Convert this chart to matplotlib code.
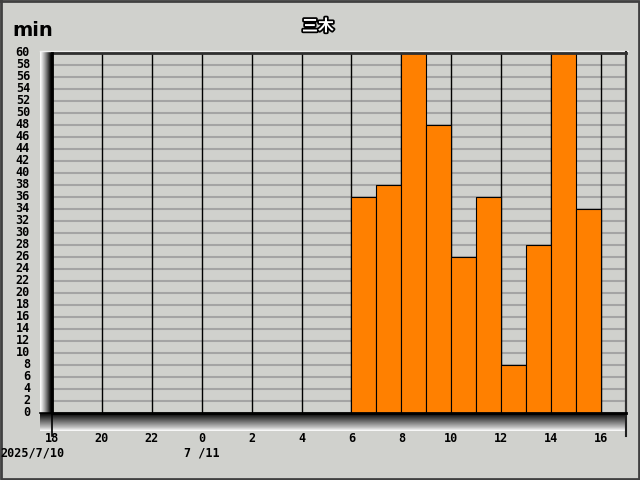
import numpy as np
import matplotlib
matplotlib.use("Agg")
import matplotlib.pyplot as plt
import matplotlib.patheffects as pe

plt.rcParams['font.family'] = ['Noto Sans CJK JP', 'DejaVu Sans']

# data
hour_labels = ["18", "20", "22", "0", "2", "4", "6", "8", "10", "12", "14", "16"]
bar_hours = [6, 7, 8, 9, 10, 11, 12, 13, 14, 15]          # clock hours on 7/11
bar_values = [36, 38, 60, 48, 26, 36, 8, 28, 60, 34]      # minutes
y_ticks = list(range(0, 61, 2))
title = "三木"
unit = "min"
date1 = "2025/7/10"
date2 = "7 /11"

W, H = 640, 480
bg = "#d0d1cd"
fig = plt.figure(figsize=(W / 100, H / 100), dpi=100, facecolor=bg)

# background axes in pixel coordinates
bax = fig.add_axes([0, 0, 1, 1], zorder=0)
bax.set_xlim(0, W)
bax.set_ylim(H, 0)
bax.axis("off")
bax.set_facecolor(bg)

# left wall gradient (light -> dark)
t = np.linspace(0, 1, 64)
wall = np.clip(1.0 - t ** 1.2 * 1.1, 0, 1).reshape(1, -1)
bax.imshow(wall, extent=(40, 52, 430, 52), cmap="gray", vmin=0, vmax=1,
           aspect="auto", interpolation="bilinear")
# floor gradient (dark top -> white bottom)
floor = np.where(t < 0.8, (t / 0.8) * 0.75, 0.75 + (t - 0.8) / 0.2 * 0.25).reshape(-1, 1)
bax.imshow(floor, extent=(40, 626, 431, 413), cmap="gray", vmin=0, vmax=1,
           aspect="auto", interpolation="bilinear")
# top highlight line
bax.plot([40, 628], [51, 51], color="#f0f0f0", lw=1)
bax.plot([626, 626], [52, 436], color="#202020", lw=1.5)
bax.plot([52, 52], [413, 436], color="#000000", lw=1.2)
bax.plot([40, 52], [413, 413], color="#000000", lw=1.2)
# figure border
bax.plot([1, 639, 639, 1, 1], [1, 1, 479, 479, 1], color="#404040", lw=2)

# main plot axes
left, right, top, bottom = 52, 626, 53, 413
ax = fig.add_axes([left / W, 1 - bottom / H, (right - left) / W, (bottom - top) / H],
                  zorder=1)
ax.set_facecolor("none")
ax.set_xlim(0, 23)
ax.set_ylim(0, 60)

for v in y_ticks:
    ax.axhline(v, color="#a4a4a4", lw=1.5, zorder=1)
for x in range(0, 24, 2):
    ax.axvline(x, color="#000000", lw=1, zorder=1)

positions = [h + 6 for h in bar_hours]
ax.bar(positions, bar_values, width=1, align="edge", color="#ff8000",
       edgecolor="#000000", linewidth=0.8, zorder=3)

ax.set_xticks(range(0, 24, 2))
ax.set_xticklabels([])
ax.set_yticks(y_ticks)
ax.set_yticklabels([])
ax.tick_params(length=0)
for s in ax.spines.values():
    s.set_visible(False)
ax.plot([0, 23], [60, 60], color="#303030", lw=2, zorder=4, clip_on=False)
ax.plot([23, 23], [0, 60], color="#303030", lw=1.5, zorder=4, clip_on=False)
ax.plot([0, 23], [0, 0], color="#000000", lw=2, zorder=4, clip_on=False)
ax.plot([0, 0], [0, 60], color="#000000", lw=2, zorder=4, clip_on=False)

mono = dict(family="DejaVu Sans Mono", fontweight="bold", fontsize=8.5)
# y tick labels
for v in y_ticks:
    ypix = bottom - (bottom - top) * v / 60
    bax.text(30, ypix, str(v), ha="right", va="center", **mono)
# x tick labels
for i, lab in enumerate(hour_labels):
    xpix = left + i * 2 * (right - left) / 23
    bax.text(xpix, 439, lab, ha="center", va="center", **mono)
bax.text(0, 453, date1, ha="left", va="center", **mono)
bax.text(left + 6 * (right - left) / 23, 453, date2, ha="center", va="center", **mono)

bax.text(12, 30, unit, ha="left", va="center", fontsize=14, fontweight="bold",
         family="DejaVu Sans")
bax.text(318, 26, title, ha="center", va="center", fontsize=11.5, fontweight="bold",
         color="white", path_effects=[pe.withStroke(linewidth=2.5, foreground="black")])

fig.savefig("out.png", dpi=100, facecolor=bg)
